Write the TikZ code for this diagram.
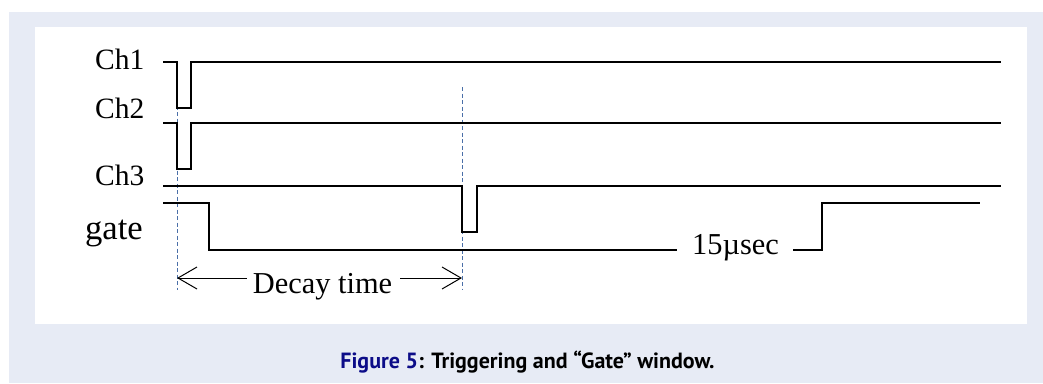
\documentclass[tikz,border=0pt]{standalone}
\usepackage{fontspec}
\setmainfont{Liberation Serif}
\newfontfamily\capfont{PT Sans}
\usetikzlibrary{arrows.meta}
\definecolor{pagebg}{HTML}{E7EBF5}
\definecolor{figblue}{HTML}{0C0C88}
\definecolor{guide}{HTML}{4A6FA8}
\tikzset{
  sig/.style={line width=2bp, line join=miter},
  gatesig/.style={line width=1.3bp, line join=miter},
  guideline/.style={guide, line width=0.9bp, dash pattern=on 4bp off 2.5bp},
  chlabel/.style={inner sep=0pt, anchor=base west, font=\fontsize{29.5bp}{32bp}\selectfont},
  timelabel/.style={inner sep=0pt, anchor=base, font=\fontsize{30.4bp}{33bp}\selectfont},
  span/.style={line width=1bp, -{Straight Barb[length=19bp,width=22bp,line width=1bp]}},
  caption/.style={inner sep=0pt, anchor=base, font=\capfont\bfseries\fontsize{22bp}{24bp}\selectfont}
}
\begin{document}
\begin{tikzpicture}[x=1bp,y=-1bp]
\useasboundingbox (0,0) rectangle (1043,383);
% page and figure panel
\fill[white] (0,0) rectangle (1043,383);
\fill[pagebg] (9,12) rectangle (1043,383);
\fill[white] (35,27) rectangle (1027,324);

% channel labels
\node[chlabel] (l1) at (95,69) {Ch1};
\node[chlabel] (l2) at (95,118) {Ch2};
\node[chlabel] (l3) at (95,185) {Ch3};
\node[inner sep=0pt, anchor=base west, font=\fontsize{34.6bp}{36bp}\selectfont] (lg) at (85,239) {gate};

% trigger guides
\draw[guideline] (177,86) -- (177,290);
\draw[guideline] (462,87) -- (462,290);

% channel waveforms
\draw[sig] (163,62) -- (177,62) -- (177,108) -- (191,108) -- (191,62) -- (1001,62);
\draw[sig] (163,123) -- (177,123) -- (177,169) -- (191,169) -- (191,123) -- (1001,123);
\draw[sig] (163,186) -- (462,186) -- (462,232) -- (477,232) -- (477,186) -- (1001,186);

% gate window
\node[timelabel] (dur) at (735.5,254) {15µsec};
\coordinate (gl) at (677,250);
\coordinate (gr) at (793,250);
\draw[gatesig] (163,203) -- (209,203) -- (209,250) -- (gl);
\draw[gatesig] (gr) -- (822,250) -- (822,203) -- (980,203);

% decay time span
\node[timelabel] (dt) at (322.5,293) {Decay time};
\coordinate (dl) at (177,278);
\coordinate (dr) at (462,278);
\draw[span] (dt.west |- dl) ++(-6,0) -- (dl);
\draw[span] (dt.east |- dr) ++(8,0) -- (dr);

% caption
\node[caption] (cap) at (527.5,368) {\textcolor{figblue}{Figure 5}: Triggering and “Gate” window.};
\end{tikzpicture}
\end{document}
